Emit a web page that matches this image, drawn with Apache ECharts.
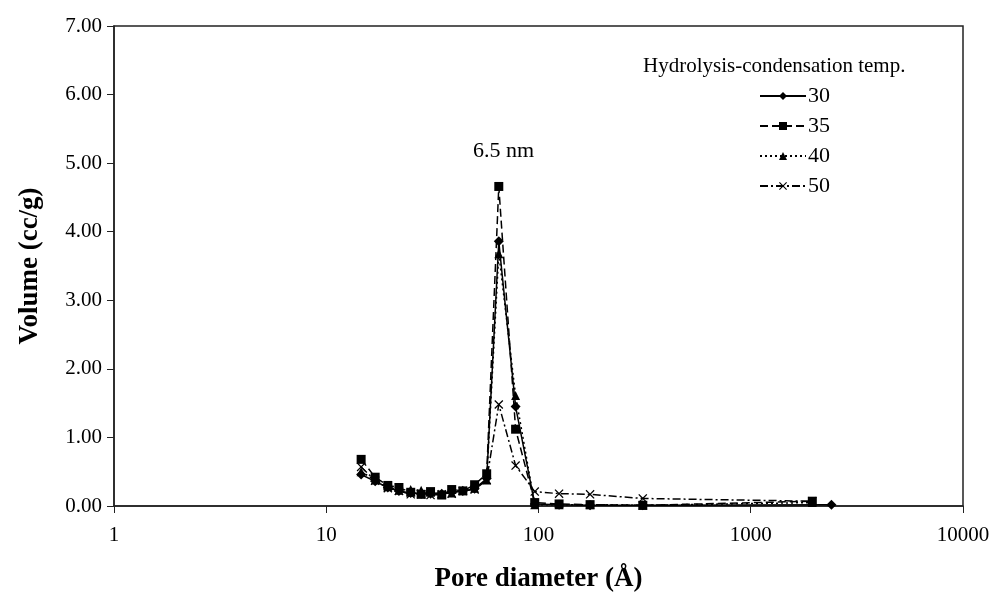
<!DOCTYPE html>
<html>
<head>
<meta charset="utf-8">
<script src="https://cdn.jsdelivr.net/npm/echarts@6/dist/echarts.min.js"></script>
<style>
  html, body { margin: 0; padding: 0; background: #fff; }
  #main { width: 996px; height: 601px; }
</style>
</head>
<body>
<div id="main"></div>
<script>
// pore diameters (Å)
const poreSizes = [14.6, 17, 19.5, 22, 25, 28, 31, 35, 39, 44, 50, 57, 65, 78, 96, 125, 175, 310];
const tail30 = 2400;
const tail35 = 1950;

const vol30 = [0.46, 0.36, 0.27, 0.22, 0.19, 0.18, 0.18, 0.18, 0.20, 0.22, 0.25, 0.40, 3.86, 1.45, 0.03, 0.02, 0.01, 0.01, 0.02];
const vol35 = [0.68, 0.42, 0.30, 0.27, 0.20, 0.17, 0.21, 0.16, 0.24, 0.22, 0.31, 0.47, 4.66, 1.12, 0.05, 0.03, 0.02, 0.01, 0.07];
const vol40 = [0.50, 0.38, 0.28, 0.23, 0.24, 0.23, 0.20, 0.18, 0.19, 0.23, 0.26, 0.38, 3.68, 1.61, 0.02, 0.02, 0.02, 0.01, 0.05];
const vol50 = [0.57, 0.37, 0.26, 0.22, 0.17, 0.17, 0.16, 0.17, 0.18, 0.22, 0.24, 0.38, 1.48, 0.59, 0.21, 0.18, 0.17, 0.11, 0.07];

const seriesNames = ['30', '35', '40', '50'];
const xTickLabels = ['1', '10', '100', '1000', '10000'];

const font = '"Liberation Serif", "Times New Roman", serif';
const crossPath = 'path://M0,1L1,0L5,4L9,0L10,1L6,5L10,9L9,10L5,6L1,10L0,9L4,5Z';

function pairs(xs, last, ys) {
  return xs.concat([last]).map((x, i) => [x, ys[i]]);
}

const chartDom = document.getElementById('main');
const myChart = echarts.init(chartDom);

const mk = (name, data, symbol, size, dash) => ({
  name: name,
  type: 'line',
  data: data,
  symbol: symbol,
  symbolSize: size,
  showSymbol: true,
  itemStyle: { color: '#000' },
  lineStyle: { color: '#000', width: 1.5, type: dash },
  animation: false,
  z: 3
});

const option = {
  backgroundColor: '#fff',
  textStyle: { fontFamily: font, color: '#000' },
  title: {
    text: 'Hydrolysis-condensation temp.',
    left: 638,
    top: 51,
    textStyle: { fontFamily: font, fontSize: 21, fontWeight: 'normal', color: '#000' }
  },
  legend: {
    orient: 'vertical',
    left: 754,
    top: 80,
    itemWidth: 46,
    itemHeight: 10,
    itemGap: 8,
    data: seriesNames,
    textStyle: { fontFamily: font, fontSize: 22, color: '#000', padding: [0, 0, 0, -3] }
  },
  graphic: [{
    type: 'text',
    left: 473,
    top: 140,
    style: { text: '6.5 nm', font: '22px ' + font, fill: '#000' }
  }],
  grid: {
    left: 114,
    right: 33,
    top: 26,
    bottom: 95,
    show: true,
    borderColor: '#222',
    borderWidth: 1.5,
    backgroundColor: 'transparent'
  },
  xAxis: {
    type: 'log',
    logBase: 10,
    min: 1,
    max: 10000,
    name: 'Pore diameter (Å)',
    nameLocation: 'middle',
    nameGap: 60,
    nameTextStyle: { fontFamily: font, fontSize: 27, fontWeight: 'bold', color: '#000' },
    axisLine: { lineStyle: { color: '#222', width: 1.5 } },
    axisTick: { show: true, length: 7, lineStyle: { color: '#222' } },
    minorTick: { show: false },
    splitLine: { show: false },
    axisLabel: {
      fontFamily: font, fontSize: 21, color: '#000', margin: 19,
      formatter: v => xTickLabels[Math.round(Math.log10(v))]
    }
  },
  yAxis: {
    type: 'value',
    min: 0,
    max: 7,
    interval: 1,
    name: 'Volume (cc/g)',
    nameLocation: 'middle',
    nameGap: 70,
    nameTextStyle: { fontFamily: font, fontSize: 27, fontWeight: 'bold', color: '#000' },
    axisLine: { show: true, lineStyle: { color: '#222', width: 1.5 } },
    axisTick: { show: true, length: 7, lineStyle: { color: '#222' } },
    splitLine: { show: false },
    axisLabel: {
      fontFamily: font, fontSize: 21, color: '#000', margin: 12,
      formatter: v => v.toFixed(2)
    }
  },
  series: [
    mk('30', pairs(poreSizes, tail30, vol30), 'diamond', 10, 'solid'),
    mk('35', pairs(poreSizes, tail35, vol35), 'rect', 9, [8, 4]),
    mk('40', pairs(poreSizes, tail35, vol40), 'triangle', 9, [2, 3]),
    mk('50', pairs(poreSizes, tail35, vol50), crossPath, 9, [8, 3, 2, 3])
  ]
};

myChart.setOption(option);
</script>
</body>
</html>
